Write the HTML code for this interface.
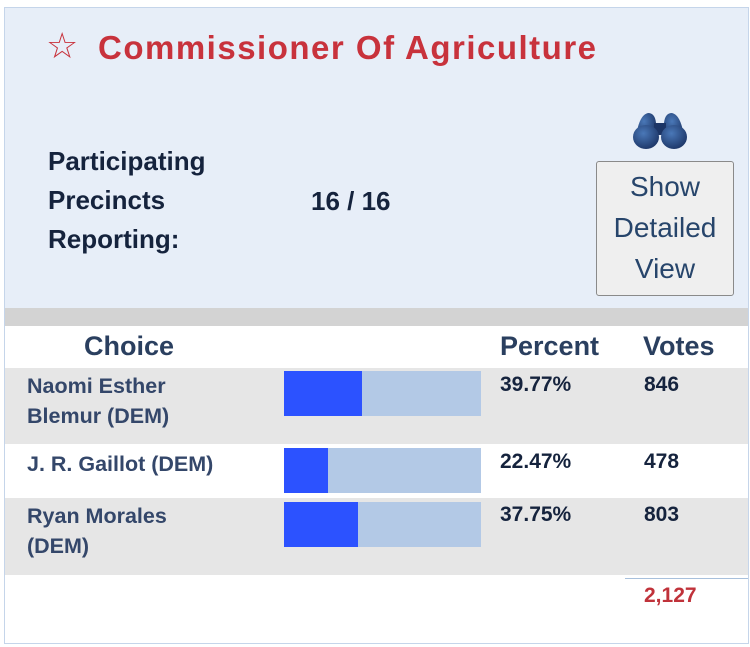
<!DOCTYPE html>
<html><head><style>
body{margin:0;width:750px;height:647px;background:#fff;position:relative;overflow:hidden;font-family:"Liberation Sans",Arial,sans-serif;font-weight:bold}
.a{position:absolute;white-space:nowrap}
</style></head><body>
<div class="a" style="left:4px;top:7px;width:743px;height:635px;border:1px solid #c5d5ea;background:#fff"></div>
<div class="a" style="left:5px;top:8px;width:743px;height:300px;background:#e7eef8"></div>
<div class="a" style="left:5px;top:308px;width:743px;height:18px;background:#d3d3d3"></div>
<div class="a" style="left:5px;top:368px;width:743px;height:76px;background:#e6e6e6"></div>
<div class="a" style="left:5px;top:498px;width:743px;height:77px;background:#e6e6e6"></div>
<div class="a" style="left:625px;top:578px;width:123px;height:1px;background:#a8c0dc"></div>

<div class="a" style="left:46px;top:26px;font-size:36px;font-weight:normal;color:#c8323c;line-height:40px">☆</div>
<div class="a" style="left:98px;top:28px;font-size:33px;color:#c8323c;line-height:40px;letter-spacing:1.5px">Commissioner Of Agriculture</div>

<div class="a" style="left:48px;top:142px;font-size:26px;color:#15233d;line-height:39px">Participating<br>Precincts<br>Reporting:</div>
<div class="a" style="left:311px;top:186px;font-size:26px;color:#15233d;line-height:30px">16 / 16</div>

<svg class="a" style="left:630px;top:109px" width="60" height="42">
<defs><radialGradient id="g" cx="0.4" cy="0.35" r="0.7"><stop offset="0" stop-color="#4a78b8"/><stop offset="1" stop-color="#1c3566"/></radialGradient></defs>
<path d="M6 28 Q9 6 18 4 Q25 4 26 14 L26 28 Z" fill="url(#g)"/>
<path d="M54 28 Q51 6 42 4 Q35 4 34 14 L34 28 Z" fill="url(#g)"/>
<rect x="24" y="14" width="12" height="12" fill="#1c3566"/>
<ellipse cx="16" cy="28" rx="13" ry="12" fill="url(#g)"/>
<ellipse cx="44" cy="28" rx="13" ry="12" fill="url(#g)"/>
</svg>
<div class="a" style="left:596px;top:161px;border:1px solid #8a8a8a;border-radius:3px;background:#efefef;font-weight:normal;font-size:28px;color:#27456b;text-align:center;line-height:41px;padding-top:4px;box-sizing:border-box;height:135px;width:138px">Show<br>Detailed<br>View</div>

<div class="a" style="left:84px;top:331px;font-size:27px;color:#2a3f5f;line-height:30px">Choice</div>
<div class="a" style="left:500px;top:331px;font-size:27px;color:#2a3f5f;line-height:30px">Percent</div>
<div class="a" style="left:643px;top:331px;font-size:27px;color:#2a3f5f;line-height:30px">Votes</div>

<div class="a" style="left:27px;top:371px;font-size:21.5px;color:#34476a;line-height:30px">Naomi Esther<br>Blemur (DEM)</div>
<div class="a" style="left:27px;top:449px;font-size:21.5px;color:#34476a;line-height:30px">J. R. Gaillot (DEM)</div>
<div class="a" style="left:27px;top:501px;font-size:21.5px;color:#34476a;line-height:30px">Ryan Morales<br>(DEM)</div>

<div class="a" style="left:284px;top:371px;width:197px;height:45px;background:#b3c9e6"></div>
<div class="a" style="left:284px;top:371px;width:78px;height:45px;background:#2c52ff"></div>
<div class="a" style="left:284px;top:448px;width:197px;height:45px;background:#b3c9e6"></div>
<div class="a" style="left:284px;top:448px;width:44px;height:45px;background:#2c52ff"></div>
<div class="a" style="left:284px;top:502px;width:197px;height:45px;background:#b3c9e6"></div>
<div class="a" style="left:284px;top:502px;width:74px;height:45px;background:#2c52ff"></div>

<div class="a" style="left:500px;top:372px;font-size:21px;color:#15233d;line-height:26px">39.77%</div>
<div class="a" style="left:500px;top:449px;font-size:21px;color:#15233d;line-height:26px">22.47%</div>
<div class="a" style="left:500px;top:502px;font-size:21px;color:#15233d;line-height:26px">37.75%</div>
<div class="a" style="left:644px;top:372px;font-size:21px;color:#15233d;line-height:26px">846</div>
<div class="a" style="left:644px;top:449px;font-size:21px;color:#15233d;line-height:26px">478</div>
<div class="a" style="left:644px;top:502px;font-size:21px;color:#15233d;line-height:26px">803</div>
<div class="a" style="left:644px;top:583px;font-size:21px;color:#c0323a;line-height:26px">2,127</div>
</body></html>
